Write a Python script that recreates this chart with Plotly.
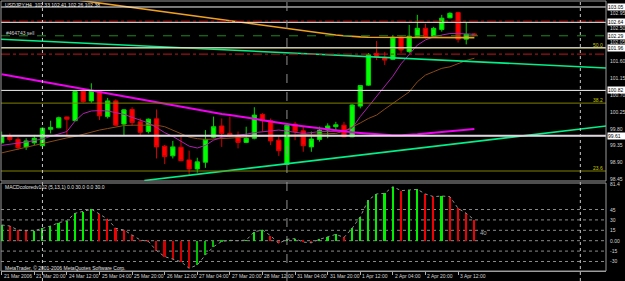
import plotly.graph_objects as go

# ---------------- data ----------------
bar_index = list(range(59))
opens = [99.42, 99.58, 99.51, 99.31, 99.42, 99.34, 99.78, 99.82, 100.11, 100.01,
         100.81, 100.54, 100.79, 100.12, 100.54, 99.92, 100.31, 99.98, 99.72, 100.06,
         99.33, 99.07, 99.30, 98.96, 98.72, 98.90, 99.57, 99.87, 99.67, 99.60,
         99.43, 99.54, 100.18, 100.01, 99.49, 98.84, 99.92, 99.74, 99.31, 99.51,
         99.76, 99.85, 99.89, 99.58, 100.40, 100.96, 101.81, 101.71, 101.65, 102.25,
         101.86, 102.26, 102.48, 102.27, 102.45, 102.76, 102.90, 102.19, 102.33]
highs = [99.72, 99.67, 99.57, 99.54, 99.63, 99.83, 100.01, 100.12, 100.12, 100.80,
         100.83, 101.01, 100.81, 100.62, 100.58, 100.32, 100.37, 100.07, 100.07, 100.31,
         99.36, 99.47, 99.58, 99.21, 99.02, 99.76, 100.12, 100.07, 100.12, 99.72,
         99.85, 100.37, 100.21, 100.07, 99.60, 99.94, 99.98, 99.85, 99.72, 99.85,
         99.94, 99.98, 99.98, 100.45, 100.96, 101.82, 102.14, 101.85, 102.30, 102.27,
         102.57, 102.84, 102.60, 102.52, 102.84, 102.91, 102.92, 102.63, 102.35]
lows = [99.40, 99.45, 99.23, 99.23, 99.36, 99.31, 99.67, 99.81, 99.63, 100.00,
        100.49, 100.49, 100.03, 100.07, 99.87, 99.63, 99.87, 99.63, 99.67, 99.00,
        98.85, 99.00, 98.93, 98.56, 98.62, 98.75, 99.54, 99.31, 99.57, 99.27,
        99.41, 99.51, 99.72, 99.36, 99.07, 98.83, 99.49, 99.18, 99.18, 99.45,
        99.54, 99.76, 99.57, 99.57, 100.34, 100.94, 101.63, 101.50, 101.63, 101.82,
        101.82, 102.22, 102.21, 102.24, 102.39, 102.75, 102.10, 102.05, 102.27]
closes = [99.60, 99.51, 99.29, 99.47, 99.54, 99.81, 99.83, 100.09, 100.05, 100.79,
          100.52, 100.81, 100.14, 100.54, 99.89, 100.30, 99.96, 99.70, 100.05, 99.31,
          99.05, 99.31, 98.94, 98.72, 98.91, 99.51, 99.85, 99.67, 99.63, 99.43,
          99.54, 100.16, 100.01, 99.47, 99.21, 99.89, 99.72, 99.34, 99.52, 99.76,
          99.87, 99.90, 99.58, 100.43, 100.95, 101.77, 101.71, 101.63, 102.24, 101.90,
          102.27, 102.48, 102.26, 102.48, 102.75, 102.88, 102.19, 102.32, 102.29]

ma_orange = [103.51, 103.48, 103.45, 103.42, 103.39, 103.36, 103.33, 103.30, 103.27, 103.24,
             103.21, 103.18, 103.15, 103.12, 103.09, 103.06, 103.03, 103.00, 102.97, 102.94,
             102.91, 102.88, 102.85, 102.82, 102.79, 102.76, 102.73, 102.70, 102.67, 102.64,
             102.61, 102.58, 102.55, 102.52, 102.49, 102.46, 102.43, 102.40, 102.37, 102.35,
             102.32, 102.30, 102.28, 102.26, 102.25, 102.24, 102.24, 102.23, 102.23, 102.23,
             102.23, 102.23, 102.23, 102.23, 102.23, 102.23, 102.23, 102.23, 102.23]
ma_slow_magenta = [101.25, 101.21, 101.17, 101.13, 101.09, 101.05, 101.01, 100.97, 100.93, 100.89,
                   100.85, 100.81, 100.77, 100.73, 100.69, 100.65, 100.61, 100.57, 100.53, 100.49,
                   100.45, 100.41, 100.37, 100.33, 100.29, 100.25, 100.22, 100.19, 100.16, 100.13,
                   100.10, 100.06, 100.02, 99.98, 99.95, 99.92, 99.89, 99.86, 99.83, 99.80,
                   99.77, 99.75, 99.72, 99.70, 99.68, 99.66, 99.64, 99.63, 99.62, 99.62,
                   99.63, 99.65, 99.67, 99.69, 99.71, 99.73, 99.75, 99.77, 99.79]
ma_fast_purple = [99.35, 99.39, 99.41, 99.44, 99.48, 99.52, 99.59, 99.65, 99.72, 100.00,
                  100.20, 100.27, 100.28, 100.27, 100.23, 100.18, 100.10, 100.03, 99.95, 99.83,
                  99.69, 99.59, 99.47, 99.33, 99.28, 99.35, 99.49, 99.57, 99.60, 99.62,
                  99.65, 99.69, 99.72, 99.75, 99.76, 99.73, 99.69, 99.67, 99.69, 99.72,
                  99.72, 99.72, 99.73, 99.81, 100.12, 100.39, 100.65, 100.94, 101.20, 101.53,
                  101.79, 102.03, 102.17, 102.25, 102.30, 102.34, 102.34, 102.33, 102.32]
ma_brown = [99.15, 99.20, 99.25, 99.31, 99.36, 99.41, 99.47, 99.51, 99.55, 99.59,
            99.65, 99.71, 99.76, 99.80, 99.84, 99.88, 99.89, 99.89, 99.89, 99.89,
            99.85, 99.76, 99.67, 99.57, 99.53, 99.51, 99.52, 99.53, 99.55, 99.56,
            99.57, 99.59, 99.60, 99.60, 99.61, 99.63, 99.63, 99.63, 99.64, 99.65,
            99.66, 99.67, 99.73, 99.83, 99.95, 100.07, 100.16, 100.32, 100.47, 100.63,
            100.78, 101.05, 101.23, 101.32, 101.41, 101.45, 101.54, 101.62, 101.68]

macd_hist = [22.7, 21.2, 15.4, 14.4, 14.5, 17.9, 21.2, 26.0, 28.9, 39.5,
             41.9, 45.3, 38.5, 30.9, 17.9, 15.4, 8.2, 1.0, -1.0, -14.4,
             -23.0, -26.9, -30.3, -39.9, -35.0, -20.6, -8.6, -1.0, 0.5, 0.0,
             0.8, 13.0, 15.4, 7.2, -3.8, 2.0, 3.0, -2.0, -3.0, 2.0,
             5.8, 9.1, 4.8, 17.8, 34.7, 58.7, 67.4, 68.4, 78.0, 72.2,
             73.2, 74.0, 67.4, 63.5, 64.5, 63.5, 46.7, 39.5, 29.9]

trend_down_bars = [-0.2, 74.2]
trend_down_prices = [102.19, 101.42]
trend_up_bars = [17.5, 74.2]
trend_up_prices = [98.41, 99.87]

white_levels = [103.05, 102.64, 101.96, 100.82, 99.61]
white_labels = ["103.05", "102.64", "101.96", "100.82", "99.61"]
stop_levels = [102.67, 101.79]
order_level = 102.28
order_label_text = "#464743 sell"
bid_label = "102.29"
fib_names = ["50.0", "38.2", "23.6"]
fib_levels = [101.95, 100.48, 98.665]
price_ticks = [98.45, 98.90, 99.35, 99.80, 100.25, 100.70, 101.15, 101.60, 102.05, 102.50, 102.95]
macd_levels = [45, 30, 15, 0, -15, -30]
macd_level_labels = ["45", "30", "15", "0.00", "-15", "-30"]
macd_max_label, macd_min_label = "81.4", "-44.8"
macd_max, macd_min = 81.4, -44.8
time_bars = [0, 4, 8, 12, 16, 20, 24, 28, 32, 36, 40, 44, 48, 52, 56]
time_labels = ["21 Mar 2006", "21 Mar 20:00", "24 Mar 12:00", "25 Mar 04:00", "25 Mar 20:00",
               "26 Mar 12:00", "27 Mar 04:00", "27 Mar 20:00", "28 Mar 12:00", "31 Mar 04:00",
               "31 Mar 20:00", "1 Apr 12:00", "2 Apr 04:00", "2 Apr 20:00", "3 Apr 12:00"]
separator_bars = [5, 35, 71]
title_text = "USDJPY,H4  102.33 102.41 102.26 102.38"
macd_title = "MACDcoloredv102 (5,13,1) 0.0 30.0 0.0 30.0"
macd_note = "40"
copyright_text = "MetaTrader, \u00a9 2001-2006 MetaQuotes Software Corp."

# ---------------- layout geometry ----------------
W, H = 625, 281
def py(p):  # pixel row -> paper y
    return 1 - p / H
def px(p):
    return p / W

X_DOM = [px(1), px(606)]
PRICE_DOM = [py(181), py(1)]
MACD_DOM = [py(271), py(183)]
X_RANGE = [-0.086, 74.15]
PRICE_RANGE = [98.398, 103.210]
MACD_RANGE = [-43.72, 83.26]

FONT = "Liberation Sans"
TXT = "#D4D4D4"
FS = 5

fig = go.Figure()

fig.add_trace(go.Candlestick(
    x=bar_index, open=opens, high=highs, low=lows, close=closes,
    xaxis="x2", yaxis="y2", whiskerwidth=0,
    increasing=dict(fillcolor="#00FF00", line=dict(color="#00D800", width=1)),
    decreasing=dict(fillcolor="#FF0000", line=dict(color="#D80000", width=1)),
    showlegend=False, hoverinfo="skip"))

def line(xs, ys, color, width, dash="solid", axes=("x2", "y2")):
    fig.add_trace(go.Scatter(x=xs, y=ys, mode="lines", xaxis=axes[0], yaxis=axes[1],
                             line=dict(color=color, width=width, dash=dash),
                             showlegend=False, hoverinfo="skip"))

line(bar_index, ma_brown, "#8A4A18", 1)
line(bar_index, ma_fast_purple, "#B020B0", 1)
line(bar_index, ma_slow_magenta, "#F000F0", 2)
line(bar_index, ma_orange, "#F0A020", 1.6)
line(trend_down_bars, trend_down_prices, "#00F088", 1.6)
line(trend_up_bars, trend_up_prices, "#00F088", 1.6)

# MACD histogram
bar_colors = []
for i, v in enumerate(macd_hist):
    prev = macd_hist[i - 1] if i > 0 else v
    rising = v >= prev
    if rising:
        bar_colors.append("#00F000" if v >= 0 else "#00C000")
    else:
        bar_colors.append("#F00000" if v >= 0 else "#D00000")
fig.add_trace(go.Bar(x=bar_index, y=macd_hist, width=0.2, marker=dict(color=bar_colors, line=dict(width=0)),
                     xaxis="x", yaxis="y", showlegend=False, hoverinfo="skip"))
line(bar_index, macd_hist, "#909090", 1, "dot", axes=("x", "y"))

shapes = []
def hline(yval, color, width, dash="solid", yref="y2"):
    shapes.append(dict(type="line", xref="x domain", x0=0, x1=1, yref=yref, y0=yval, y1=yval,
                       line=dict(color=color, width=width, dash=dash), layer="above"))

for lvl in fib_levels:
    hline(lvl, "#808000", 1)
for lvl in white_levels:
    hline(lvl, "#F4F4F4", 1)
hline(white_levels[-1], "#DDD6DD", 2)
for lvl in stop_levels:
    hline(lvl, "#C01818", 1, "dashdot")
hline(order_level, "#1E8A1E", 1, "dash")
for lvl in macd_levels:
    shapes.append(dict(type="line", xref="x domain", x0=0, x1=1, yref="y", y0=lvl, y1=lvl,
                       line=dict(color="#8C8C8C", width=1, dash="dot"), layer="below"))

for i, b in enumerate(separator_bars):
    shapes.append(dict(type="line", xref="x", x0=b, x1=b, yref="paper", y0=0, y1=1,
                       line=dict(color="#909090" if i == 1 else "#C8C8C8", width=1,
                                 dash="dash" if i == 1 else "dot"), layer="above"))

# panel frames
for dom in (PRICE_DOM, MACD_DOM):
    shapes.append(dict(type="rect", xref="paper", yref="paper", x0=X_DOM[0], x1=X_DOM[1],
                       y0=dom[0], y1=dom[1], line=dict(color="#9A9A9A", width=1), layer="above"))

ann = []
def text(x, y, s, xref="paper", yref="paper", color=TXT, size=FS, xanchor="left", **kw):
    ann.append(dict(x=x, y=y, xref=xref, yref=yref, text=s, showarrow=False, xanchor=xanchor,
                    yanchor="middle", font=dict(family=FONT, size=size, color=color), **kw))

x_lab = px(608)
tick_shift = {102.95: -2.5, 102.05: 2.5}
for t in price_ticks:
    text(x_lab, t, f"{t:.2f}", yref="y2", yshift=tick_shift.get(t, 0))
for lvl, lab in zip(white_levels, white_labels):
    text(px(607), lvl, lab, yref="y2", color="#000000", bgcolor="#FFFFFF", borderpad=0,
         width=17, height=6, align="left")
text(px(607), order_level, bid_label, yref="y2", color="#000000", bgcolor="#FFFFFF", borderpad=0,
     width=17, height=6, align="left")
for name, lvl in zip(fib_names, fib_levels):
    text(px(605), lvl, name, yref="y2", color="#C8C800", xanchor="right", yshift=3)

for lvl, lab in zip(macd_levels, macd_level_labels):
    text(x_lab, lvl, lab, yref="y")
text(x_lab, macd_max, macd_max_label, yref="y")
text(x_lab, macd_min, macd_min_label, yref="y")

for b, lab in zip(time_bars, time_labels):
    text(b, py(276), lab, xref="x")

text(px(3), py(4.5), title_text, color="#E8E8E8")
text(px(4), order_level, order_label_text, yref="y2", color="#D0D0D0", yshift=2.5)
text(px(3), py(186.5), macd_title, color="#E0E0E0")
text(px(3), py(267.5), copyright_text, color="#E0E0E0")
text(bar_index[-1] + 0.5, 11, macd_note, xref="x", yref="y", color="#B0B0B0", size=6)

fig.update_layout(
    width=W, height=H, margin=dict(l=0, r=0, t=0, b=0),
    paper_bgcolor="#000000", plot_bgcolor="#000000",
    showlegend=False, boxgap=0.25, bargap=0,
    shapes=shapes, annotations=ann,
    xaxis=dict(domain=X_DOM, range=X_RANGE, anchor="y", showgrid=False, zeroline=False,
               showticklabels=False, ticks="outside", ticklen=3, tickcolor="#B0B0B0",
               tickvals=time_bars, showline=True, linecolor="#A0A0A0"),
    yaxis=dict(domain=MACD_DOM, range=MACD_RANGE, anchor="x", showgrid=False, zeroline=False,
               showticklabels=False),
    xaxis2=dict(domain=X_DOM, matches="x", anchor="y2", showgrid=False, zeroline=False,
                showticklabels=False, rangeslider=dict(visible=False)),
    yaxis2=dict(domain=PRICE_DOM, range=PRICE_RANGE, anchor="x2", showgrid=False, zeroline=False,
                showticklabels=False),
)

fig.write_html("out.html", config=dict(displayModeBar=False))
